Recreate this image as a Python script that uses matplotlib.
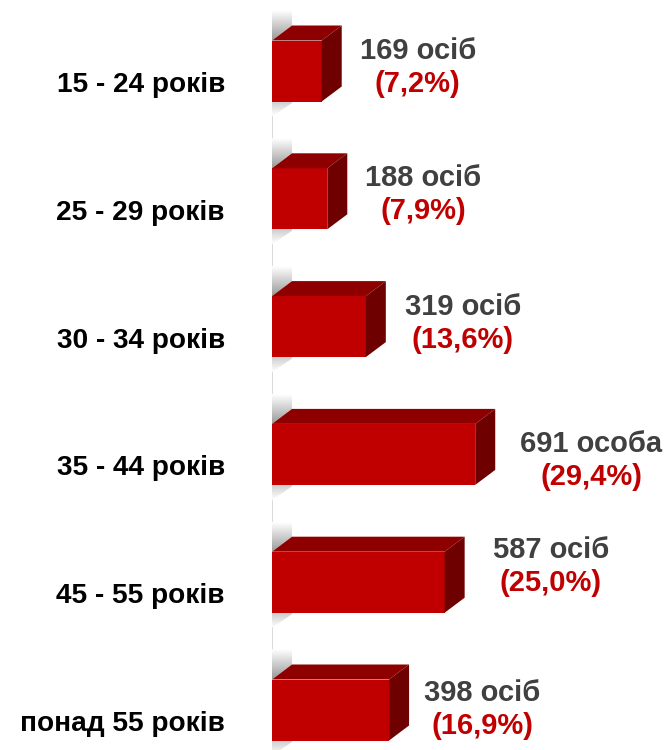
import matplotlib.pyplot as plt
import numpy as np
from matplotlib.patches import Polygon

plt.rcParams['font.family'] = ['Liberation Sans', 'DejaVu Sans']

# Data
age_groups = ['15 - 24 років', '25 - 29 років', '30 - 34 років',
              '35 - 44 років', '45 - 55 років', 'понад 55 років']
persons = [169, 188, 319, 691, 587, 398]
person_words = ['осіб', 'осіб', 'осіб', 'особа', 'осіб', 'осіб']
shares = ['7,2', '7,9', '13,6', '29,4', '25,0', '16,9']

# layout (pixels) - manual nudges of the value labels as in the original slide
label_dx = [18, 18, 19, 25, 28, 15]
label_up = [12, 13, 12, 2, 24, 9]

front_color = '#c00000'
top_color = '#8e0000'
side_color = '#6e0000'

fig = plt.figure(figsize=(6.7, 7.5), dpi=100)
ax = fig.add_axes([272 / 670, 0, 398 / 670, 1])
xlim = (0, 398 * 3.40)
ylim = ((750 - 71) / 127.8, -71 / 127.8)
ax.axis('off')

# pixel -> data helpers
ux = 3.40
uy = 1 / 127.8
depth_x = 20 * ux
depth_y = 15 * uy
h = 61 * uy

def gradient_patch(poly, first_val, last_val):
    # first_val at the upper edge on screen, last_val at the lower edge
    patch = Polygon(poly, closed=True, facecolor='none', edgecolor='none')
    ax.add_patch(patch)
    ys = [p[1] for p in poly]
    xs = [p[0] for p in poly]
    grad = np.linspace(first_val, last_val, 64).reshape(-1, 1)
    im = ax.imshow(grad, cmap='gray', vmin=0, vmax=1, aspect='auto', origin='lower',
                   extent=(min(xs), max(xs), min(ys), max(ys)),
                   interpolation='bicubic', zorder=1)
    im.set_clip_path(patch)

# wall edge line
ax.plot([0, 0], [-0.415, 5.4], color='#d4d4d4', lw=1.2, zorder=1)

y = np.arange(len(persons))
for i, v in enumerate(persons):
    top = y[i] - h / 2
    bottom = y[i] + h / 2
    # shading on the wall above and below the bar
    gradient_patch([(0, top - 2 * depth_y), (depth_x, top - 2 * depth_y),
                    (depth_x, top - depth_y), (0, top)], 1.0, 0.6)
    gradient_patch([(0, bottom), (depth_x, bottom - depth_y),
                    (depth_x, bottom + 0.1 * depth_y), (0, bottom + depth_y)], 0.6, 1.0)

ax.barh(y, persons, height=h, color=front_color, zorder=3)
for i, v in enumerate(persons):
    top = y[i] - h / 2
    bottom = y[i] + h / 2
    ax.add_patch(Polygon([(0, top), (v, top), (v + depth_x, top - depth_y),
                          (depth_x, top - depth_y)], closed=True,
                         facecolor=top_color, edgecolor='none', zorder=3))
    ax.add_patch(Polygon([(v, top), (v, bottom), (v + depth_x, bottom - depth_y),
                          (v + depth_x, top - depth_y)], closed=True,
                         facecolor=side_color, edgecolor='none', zorder=3))

    # category label
    ax.annotate(age_groups[i], xy=(0, y[i]), xytext=(-47, -21),
                textcoords='offset pixels', ha='right', va='baseline',
                fontsize=20.2, fontweight='bold', color='black',
                annotation_clip=False)

    # value labels
    t1 = ax.annotate(f'{v} {person_words[i]}', xy=(v + depth_x, y[i]),
                     xytext=(label_dx[i], label_up[i]), textcoords='offset pixels',
                     ha='left', va='baseline', fontsize=21, fontweight='bold',
                     color='#404040', annotation_clip=False)
    ax.annotate(f'({shares[i]}%)', xy=(0.5, 0), xycoords=t1,
                xytext=(0, -27), textcoords='offset pixels',
                ha='center', va='baseline', fontsize=21, fontweight='bold',
                color=front_color, annotation_clip=False)

ax.set_xlim(*xlim)
ax.set_ylim(*ylim)
fig.savefig('out.png', dpi=100, facecolor='white')
